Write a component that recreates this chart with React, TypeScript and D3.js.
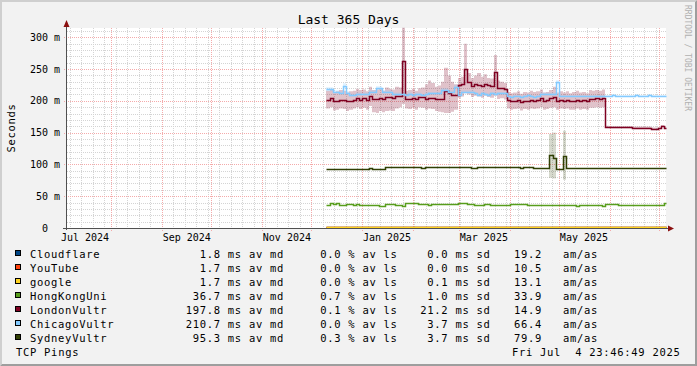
import React from "react";
import * as d3 from "d3";

// ---------------- data ----------------
const timeStart = new Date(2024, 6, 4, 23, 46, 49);
const timeEnd = new Date(2025, 6, 4, 23, 46, 49);
const dataStart = new Date(2024, 11, 10);
const stepDays = 2;
const yMax = 314.6;

const seriesNames = ["Cloudflare", "YouTube", "google", "HongKongUni", "LondonVultr", "ChicagoVultr", "SydneyVultr"];
const seriesColors = ["#004586", "#ff420e", "#ffd320", "#579d1c", "#7e0021", "#83caff", "#314004"];
const medianText = ["1.8", "1.7", "1.7", "36.7", "197.8", "210.7", "95.3"];
const lossText = ["0.0", "0.0", "0.0", "0.7", "0.1", "0.0", "0.3"];
const sdText = ["0.0", "0.0", "0.1", "1.0", "21.2", "3.7", "3.7"];
const amasText = ["19.2", "10.5", "13.1", "33.9", "14.9", "66.4", "79.9"];

const yTickValues = [0, 50, 100, 150, 200, 250, 300];
const yTickLabels = ["0  ", "50 m", "100 m", "150 m", "200 m", "250 m", "300 m"];

// low-latency hosts (sparse step points, index on the 2-day grid)
const lowIdx = [0, 20, 40, 60, 80, 103];
const cloudflareVals = [1.8, 1.8, 1.9, 1.8, 1.8, 1.8];
const youtubeVals = [1.7, 1.7, 1.7, 1.7, 1.7, 1.7];
const googleVals = [1.7, 1.7, 1.7, 1.7, 1.7, 1.7];

const hongkongVals = [
  35.5, 39.3, 37.7, 39.8, 36, 36, 38.2, 38.2, 36, 38.2,
  35.5, 35.5, 35.5, 35.5, 35.5, 35.5, 34.5, 34.5, 37.7, 37.7,
  37.1, 36.1, 36.1, 34, 38.8, 38.8, 39.3, 39.3, 37.1, 37.1,
  37.1, 36.6, 37.1, 37.1, 37.1, 37.7, 37.1, 37.1, 37.1, 37.1,
  39.3, 39.3, 39.3, 37.7, 37.7, 36.1, 36.1, 36.1, 37.1, 37.1,
  36.1, 35.5, 36.1, 36.1, 36.1, 36.1, 37.7, 37.7, 37.7, 37.7,
  37.7, 35.5, 35.5, 35.5, 35.5, 35.5, 36.6, 36.6, 36.6, 36.6,
  36.6, 36.6, 36.6, 36.6, 36.6, 36.6, 34.5, 36.6, 36.6, 36.6,
  36.6, 36.6, 36.6, 36.6, 35, 37.1, 37.1, 37.1, 37.1, 36.1,
  36.1, 36.1, 36.1, 36.1, 36.1, 36.1, 36.1, 36.1, 36.1, 35.5,
  35.5, 35.5, 36.6, 39,
];

const londonMedian = [
  201.5, 204, 199, 199, 201.5, 201.5, 199, 199, 201.5, 204,
  201.5, 204, 201.5, 208, 203, 203, 205, 203, 206, 205.7,
  204, 208, 207, 263, 202.6, 202.6, 205, 202.6, 205.7, 205.7,
  203, 204, 204, 202.6, 202.6, 203, 216, 213, 209, 209,
  225, 226, 250, 230, 224, 226, 225, 223, 226, 225,
  223, 245, 220, 221, 219, 201.5, 199, 200, 201.5, 198,
  200, 199, 201.5, 200, 202, 204, 199, 201, 204, 206,
  199, 201.5, 200, 201.5, 199, 199, 201.5, 199, 201, 199,
  203, 203, 204, 203, 204, 159.5, 158.6, 158.6, 158.6, 158.6,
  158.6, 158.6, 158.6, 158, 158, 158, 158, 158, 158, 156.5,
  156.5, 157, 160.5, 157.5,
];
const londonHi = [
  216, 218, 214, 215, 217, 216, 213, 215, 216, 219,
  217, 218, 215, 222, 217, 218, 220, 216, 221, 219,
  218, 222, 221, 315, 216, 217, 219, 216, 220, 221,
  226, 232, 228, 222, 224, 230, 252, 240, 230, 226,
  236, 238, 290, 244, 236, 240, 244, 238, 242, 236,
  235, 272, 232, 230, 228, 214, 212, 213, 215, 211,
  214, 213, 216, 214, 215, 218, 213, 214, 217, 222,
  213, 215, 213, 215, 212, 214, 216, 213, 214, 212,
  217, 216, 217, 216, 218, 161, 160, 160, 160, 160,
  160, 160, 160, 159.5, 159.5, 159.5, 159.5, 159.5, 159.5, 158,
  158, 158.5, 162, 159,
];
const londonLo = [
  188, 190, 185, 186, 188, 187, 184, 186, 188, 190,
  187, 189, 186, 192, 182, 181, 184, 182, 184, 185,
  184, 188, 190, 195, 188, 187, 189, 186, 190, 189,
  186, 188, 187, 184, 183, 182, 181, 181, 183, 186,
  205, 207, 212, 210, 206, 208, 207, 205, 208, 206,
  205, 208, 203, 204, 202, 188, 186, 187, 188, 185,
  187, 186, 188, 187, 188, 190, 186, 187, 189, 190,
  186, 188, 187, 188, 186, 186, 188, 186, 187, 186,
  189, 189, 190, 189, 190, 158, 157, 157, 157, 157,
  157, 157, 157, 156.5, 156.5, 156.5, 156.5, 156.5, 156.5, 155,
  155, 155.5, 159, 156,
];

const chicagoMedian = [
  218.3, 218.3, 214.6, 214.6, 213, 223.5, 213, 209, 209, 211,
  211, 211, 211, 214.6, 214.6, 220, 220, 214.6, 214.6, 214.6,
  211, 211, 211, 211, 209.5, 211, 209.5, 211, 211, 209.5,
  211, 212, 212, 212, 212, 217, 217, 214.6, 214.6, 222.4,
  209.5, 214.6, 214.6, 214.6, 214.6, 212, 209.5, 212, 211, 209.5,
  212, 211, 212, 212, 212, 207.8, 205.7, 207.8, 207.8, 205.7,
  207.8, 209, 207.8, 205.7, 207.8, 211, 211, 211, 211, 211,
  229.3, 207.8, 207.8, 207.8, 207.8, 207.8, 207.8, 207.8, 207.8, 207.8,
  207.8, 207.8, 207.8, 207.8, 207.8, 207.8, 207.8, 209.5, 207.8, 207.8,
  207.8, 207.8, 207.8, 207.8, 209.5, 207.8, 207.8, 207.8, 209.5, 207.8,
  207.8, 207.8, 207.8, 207.8,
];
const chicagoSpread = [
  3, 3, 2, 2, 2, 4, 2, 2, 2, 2,
  2, 2, 2, 2, 2, 3, 3, 2, 2, 2,
  2, 2, 2, 2, 1, 2, 1, 2, 2, 1,
  2, 2, 2, 2, 2, 3, 3, 2, 2, 3,
  2, 2, 2, 2, 2, 2, 2, 2, 2, 2,
  2, 2, 2, 2, 2, 1, 1, 1, 1, 1,
  1, 1, 1, 1, 1, 2, 2, 2, 2, 2,
  3, 1, 1, 1, 1, 1, 1, 1, 1, 1,
  1, 1, 1, 1, 1, 1, 1, 1, 1, 1,
  1, 1, 1, 1, 1, 1, 1, 1, 1, 1,
  1, 1, 1, 1,
];

const sydneyMedian = [
  92.6, 92.6, 92.6, 92.6, 92.6, 92.6, 92.6, 92.6, 92.6, 92.6,
  92.6, 92.6, 92.6, 94, 92.6, 92.6, 92.6, 92.6, 95.8, 95.8,
  95.8, 95.8, 95.8, 95.8, 95.8, 95.8, 95.8, 95.8, 95.8, 94.5,
  95.8, 95.8, 95.8, 95.8, 95.8, 95.8, 95.8, 95.8, 95.8, 95.8,
  95.8, 95.8, 95.8, 95.8, 93.6, 93.6, 95.8, 95.8, 95.8, 95.8,
  95.8, 95.8, 95.8, 95.8, 95.8, 95.8, 95.8, 95.8, 95.8, 94.5,
  95.8, 95.8, 95.8, 93.6, 93.6, 93.6, 93.6, 95, 115, 110,
  93, 93, 113.5, 94.2, 94.2, 94.2, 94.2, 94.2, 94.2, 94.2,
  94.2, 94.2, 94.2, 94.2, 94.2, 94.2, 94.2, 94.2, 94.2, 94.2,
  94.2, 94.2, 94.2, 94.2, 94.2, 94.2, 94.2, 94.2, 94.2, 94.2,
  94.2, 94.2, 94.2, 94.2,
];
const sydneySmokeIdx = [68, 69, 72];
const sydneySmokeHi = [148, 150, 153];
const sydneySmokeLo = [79, 78, 76];

// ---------------- layout ----------------
const W = 697;
const H = 366;
const L = 67;
const R = 666;
const T = 28;
const B = 228;
const MONO = "'DejaVu Sans Mono', monospace";

export default function App() {
  const x = d3.scaleTime().domain([timeStart, timeEnd]).range([L, R]);
  const y = d3.scaleLinear().domain([0, yMax]).range([B, T]);
  const dateAt = (i: number) => d3.timeDay.offset(dataStart, i * stepDays);
  const px = (d: Date) => Math.min(R, x(d));

  const stepPath = (vals: number[], idx?: number[]) => {
    const pts: [number, number][] = vals.map((v, k) => [px(dateAt(idx ? idx[k] : k)), y(v)]);
    const lastI = idx ? idx[idx.length - 1] : vals.length - 1;
    pts.push([px(dateAt(lastI + 1)), y(vals[vals.length - 1])]);
    return (
      d3.line().curve(d3.curveStepAfter)(
        pts.map(([a, b]) => [Math.round(a) + 0.5, Math.round(b) + 0.5])
      ) || ""
    );
  };
  const bandPath = (lo: number[], hi: number[]) => {
    const pts = lo.map((v, k) => ({ x: Math.round(px(dateAt(k))), lo: y(v), hi: y(hi[k]) }));
    pts.push({ x: Math.round(px(dateAt(lo.length))), lo: y(lo[lo.length - 1]), hi: y(hi[hi.length - 1]) });
    return (
      d3
        .area<{ x: number; lo: number; hi: number }>()
        .curve(d3.curveStepAfter)
        .x((d) => d.x)
        .y0((d) => d.lo)
        .y1((d) => d.hi)(pts) || ""
    );
  };

  const minorV = d3.timeSunday.range(timeStart, timeEnd);
  const majorV = d3.timeMonth.range(timeStart, timeEnd);
  const labelMonths = d3
    .timeMonth.every(2)!
    .range(new Date(2024, 6, 1), timeEnd)
    .filter((m) => x(d3.timeDay.offset(m, 15)) < R - 20);
  const minorH = d3.range(10, yMax, 10).filter((v) => v % 50 !== 0);

  const colX = (d: Date) => Math.floor(x(d)) + 0.5;
  const rowY = (v: number) => Math.round(y(v)) + 0.5;

  const series = [
    { vals: cloudflareVals, idx: lowIdx },
    { vals: youtubeVals, idx: lowIdx },
    { vals: googleVals, idx: lowIdx },
    { vals: hongkongVals },
    { vals: londonMedian },
    { vals: chicagoMedian },
    { vals: sydneyMedian },
  ];

  const chicagoLo = chicagoMedian.map((v, k) => v - chicagoSpread[k]);
  const chicagoHi = chicagoMedian.map((v, k) => v + chicagoSpread[k]);

  const legendFont = { fontFamily: MONO, fontSize: 10.5, letterSpacing: 0.7 } as const;

  return (
    <svg
      width={W}
      height={H}
      style={{ position: "absolute", left: 0, top: 0, display: "block" }}
      xmlns="http://www.w3.org/2000/svg"
    >
      <rect x={0} y={0} width={W} height={H} fill="#f2f2f2" />
      {/* frame shading */}
      <polygon points={`0,0 ${W},0 ${W - 2},2 2,2 2,${H - 2} 0,${H}`} fill="#cfcfcf" />
      <polygon points={`${W},0 ${W},${H} 0,${H} 2,${H - 2} ${W - 2},${H - 2} ${W - 2},2`} fill="#9e9e9e" />

      {/* canvas */}
      <rect x={L} y={T} width={R - L} height={B - T} fill="#ffffff" />

      {/* minor grid */}
      <g stroke="#d4d4d4" strokeWidth={1} strokeDasharray="1,1" fill="none">
        {minorV.map((d, i) => (
          <line key={"mv" + i} x1={colX(d)} x2={colX(d)} y1={T} y2={B} />
        ))}
        {minorH.map((v, i) => (
          <line key={"mh" + i} x1={L} x2={R} y1={rowY(v)} y2={rowY(v)} />
        ))}
      </g>
      {/* major grid */}
      <g stroke="#f4aaaa" strokeWidth={1} strokeDasharray="1,1" fill="none">
        {majorV.map((d, i) => (
          <line key={"Mv" + i} x1={colX(d)} x2={colX(d)} y1={T} y2={B + 3} />
        ))}
        {yTickValues.slice(1).map((v, i) => (
          <line key={"Mh" + i} x1={L - 3} x2={R} y1={rowY(v)} y2={rowY(v)} />
        ))}
      </g>

      {/* smoke */}
      <path d={bandPath(londonLo, londonHi)} fill={seriesColors[4]} fillOpacity={0.24} />
      <path d={bandPath(chicagoLo, chicagoHi)} fill={seriesColors[5]} fillOpacity={0.25} />
      {sydneySmokeIdx.map((k, j) => {
        const x0 = Math.round(px(dateAt(k)));
        const x1 = Math.round(px(dateAt(k + 1)));
        return (
          <rect
            key={"ss" + j}
            x={x0}
            width={x1 - x0}
            y={y(sydneySmokeHi[j])}
            height={y(sydneySmokeLo[j]) - y(sydneySmokeHi[j])}
            fill={seriesColors[6]}
            fillOpacity={0.2}
          />
        );
      })}

      {/* median lines */}
      {series.map((s, i) => (
        <path
          key={"ln" + i}
          d={stepPath(s.vals, s.idx)}
          fill="none"
          stroke={seriesColors[i]}
          strokeWidth={1.5}
        />
      ))}

      {/* axes */}
      <line x1={66.5} x2={66.5} y1={24} y2={B + 2} stroke="#505050" strokeWidth={1} />
      <line x1={63} x2={670} y1={B + 0.5} y2={B + 0.5} stroke="#505050" strokeWidth={1} />
      <polygon points="66.5,20 63.5,27 69.5,27" fill="#8b1010" />
      <polygon points="674,228.5 668,225.5 668,231.5" fill="#8b1010" />

      {/* y labels */}
      <g fontFamily={MONO} fontSize={10} fill="#000" textAnchor="end">
        {yTickValues.map((v, i) => (
          <text key={"yl" + i} x={60} y={y(v) + 3.6} xmlSpace="preserve" style={{ whiteSpace: "pre" }}>
            {yTickLabels[i]}
          </text>
        ))}
      </g>
      {/* x labels */}
      <g fontFamily={MONO} fontSize={10} fill="#000" textAnchor="middle">
        {labelMonths.map((m, i) => (
          <text key={"xl" + i} x={x(d3.timeDay.offset(m, 15))} y={241}>
            {d3.timeFormat("%b %Y")(m)}
          </text>
        ))}
      </g>

      {/* title */}
      <text x={348.5} y={24} textAnchor="middle" fontFamily={MONO} fontSize={13} fill="#000">
        Last 365 Days
      </text>
      {/* vertical label */}
      <text transform="translate(14.5,128) rotate(-90)" textAnchor="middle" {...legendFont} fill="#000">
        Seconds
      </text>
      {/* watermark */}
      <text transform="translate(685,5) rotate(90)" fontFamily={MONO} fontSize={8} fill="#b0b0b0">
        RRDTOOL / TOBI OETIKER
      </text>

      {/* legend */}
      {seriesNames.map((name, i) => {
        const by = 258 + i * 14;
        return (
          <g key={"lg" + i} {...legendFont} fill="#000">
            <rect x={15.5} y={by - 7.5} width={5} height={5} fill={seriesColors[i]} stroke="#000" strokeWidth={1} />
            <text x={30} y={by}>{name}</text>
            <text x={284} y={by} textAnchor="end">{`${medianText[i]} ms av md`}</text>
            <text x={397.5} y={by} textAnchor="end">{`${lossText[i]} % av ls`}</text>
            <text x={490.5} y={by} textAnchor="end">{`${sdText[i]} ms sd`}</text>
            <text x={514} y={by}>{amasText[i]}</text>
            <text x={563} y={by}>am/as</text>
          </g>
        );
      })}
      <text x={16} y={356} {...legendFont} fill="#000">
        TCP Pings
      </text>
      <text
        x={680.5}
        y={356}
        textAnchor="end"
        {...legendFont}
        fill="#000"
        xmlSpace="preserve"
        style={{ whiteSpace: "pre" }}
      >
        {"Fri Jul  4 23:46:49 2025"}
      </text>
    </svg>
  );
}
